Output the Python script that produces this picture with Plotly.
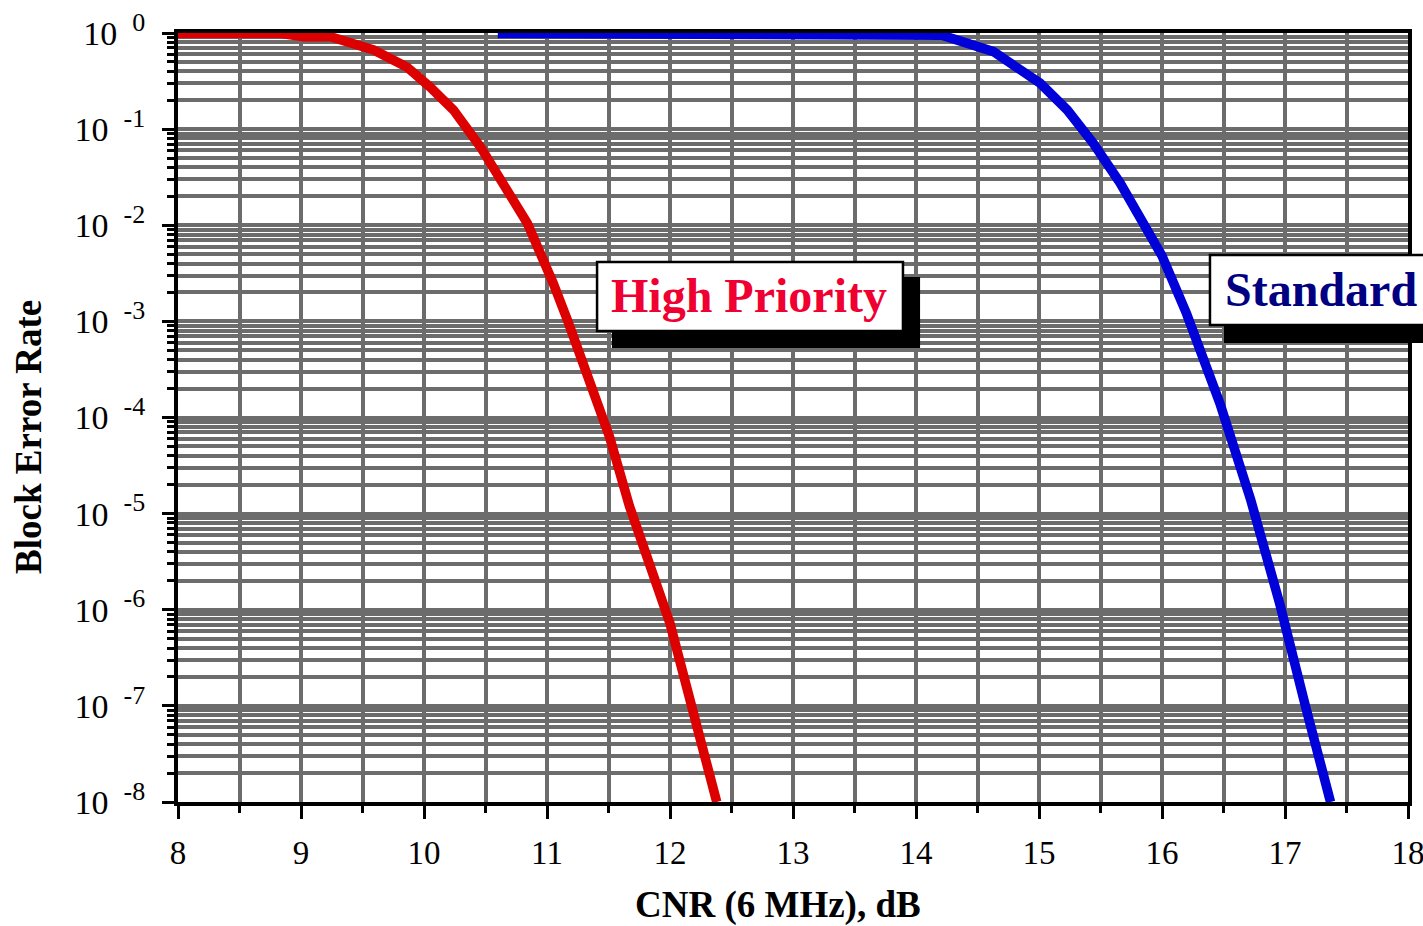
import plotly.graph_objects as go

# ---- data ----
hp_cnr = [8.0, 8.83, 9.02, 9.24, 9.59, 9.86, 10.05, 10.24, 10.46, 10.62, 10.84, 11.05, 11.17, 11.51, 11.67, 12.0, 12.38]
hp_ber = [0.99, 0.99, 0.915, 0.915, 0.665, 0.443, 0.274, 0.158, 0.065, 0.0295, 0.0105, 2.5e-3, 1.0e-3, 6.2e-5, 1.2e-5, 7.2e-7, 1e-8]

std_cnr = [10.6, 13.9, 14.05, 14.21, 14.63, 15.01, 15.23, 15.44, 15.66, 15.88, 16.0, 16.2, 16.47, 16.72, 16.96, 17.16, 17.37]
std_ber = [0.99, 0.99, 0.95, 0.95, 0.64, 0.30, 0.158, 0.0716, 0.0275, 8.9e-3, 4.8e-3, 1.2e-3, 1.41e-4, 1.41e-5, 1.12e-6, 1.07e-7, 1e-8]

x_ticks = [8, 9, 10, 11, 12, 13, 14, 15, 16, 17, 18]
x_minor = [8.5, 9.5, 10.5, 11.5, 12.5, 13.5, 14.5, 15.5, 16.5, 17.5]
y_exps = [0, -1, -2, -3, -4, -5, -6, -7, -8]
y_ticks = [10.0 ** e for e in y_exps]
y_ticktext = ["10\u00a0<sup><span style='font-size:26px'>\u00a0%d</span></sup>" % e for e in y_exps]
y_minor = [k * 10.0 ** e for e in range(-8, 0) for k in range(2, 10)]

FONT = "Liberation Serif, Times New Roman, serif"
GRID = "#6c6c6c"

fig = go.Figure()
fig.add_trace(go.Scatter(x=hp_cnr, y=hp_ber, mode="lines", name="High Priority",
                         line=dict(color="#dd0000", width=9.5)))
fig.add_trace(go.Scatter(x=std_cnr, y=std_ber, mode="lines", name="Standard",
                         line=dict(color="#0000d8", width=9.5)))

fig.update_layout(
    width=1423, height=926,
    margin=dict(l=178, r=15, t=33, b=124),
    paper_bgcolor="white", plot_bgcolor="white",
    showlegend=False,
    font=dict(family=FONT, color="black"),
    xaxis=dict(
        range=[8, 18], tickmode="array", tickvals=x_ticks, automargin=False,
        ticklabeloverflow="allow", layer="below traces",
        ticks="outside", ticklen=13, tickwidth=3, tickcolor="black",
        showline=True, linewidth=4, linecolor="black", mirror=True,
        showgrid=True, gridcolor=GRID, gridwidth=4, zeroline=False,
        tickfont=dict(size=33, family=FONT, color="black"),
        ticklabelstandoff=5,
        minor=dict(tickmode="array", tickvals=x_minor, ticks="outside", ticklen=7,
                   tickwidth=3, tickcolor="black", showgrid=True,
                   gridcolor=GRID, gridwidth=4),
    ),
    yaxis=dict(
        type="log", range=[-8, 0], tickmode="array", tickvals=y_ticks, ticktext=y_ticktext,
        automargin=False, ticklabeloverflow="allow", layer="below traces",
        ticks="outside", ticklen=12, tickwidth=3, tickcolor="black",
        showline=True, linewidth=4, linecolor="black", mirror=True,
        showgrid=True, gridcolor=GRID, gridwidth=4, zeroline=False,
        tickfont=dict(size=34, family=FONT, color="black"),
        ticklabelstandoff=10,
        minor=dict(tickmode="array", tickvals=y_minor, ticks="outside", ticklen=7,
                   tickwidth=3, tickcolor="black", showgrid=True,
                   gridcolor=GRID, gridwidth=4),
    ),
)

# axis titles
fig.add_annotation(text="CNR (6 MHz), dB", xref="paper", yref="paper",
                   x=0.488, y=-0.134, showarrow=False, xanchor="center", yanchor="middle",
                   font=dict(size=37, family=FONT, color="black", weight="bold"))
fig.add_annotation(text="Block Error Rate", xref="paper", yref="paper",
                   x=-0.121, y=0.475, showarrow=False, textangle=-90,
                   xanchor="center", yanchor="middle",
                   font=dict(size=37, family=FONT, color="black", weight="bold"))

# label boxes with drop shadows
boxes = [
    # shadow, box, text position, text, color
    ((0.3528, 0.5904, 0.6033, 0.6827), (0.3407, 0.6125, 0.5894, 0.7022), (0.4646, 0.6580), "High Priority", "#f00030"),
    ((0.8504, 0.5969, 1.03, 0.6918), (0.8390, 0.6203, 1.03, 0.7113), (0.9293, 0.6658), "Standard", "#000080"),
]
for sh, bx, tp, txt, col in boxes:
    fig.add_shape(type="rect", xref="paper", yref="paper", layer="above",
                  x0=sh[0], y0=sh[1], x1=sh[2], y1=sh[3],
                  fillcolor="black", line=dict(width=0))
    fig.add_shape(type="rect", xref="paper", yref="paper", layer="above",
                  x0=bx[0], y0=bx[1], x1=bx[2], y1=bx[3],
                  fillcolor="white", line=dict(color="black", width=2.5))
    fig.add_annotation(text=txt, xref="paper", yref="paper", x=tp[0], y=tp[1],
                       showarrow=False, xanchor="center", yanchor="middle",
                       font=dict(size=48, family=FONT, color=col, weight="bold"))

# remove the browser's default 8 px body margin so the figure fills the window exactly
fig.write_html("out.html", config={"displayModeBar": False},
               post_script="document.body.style.margin='0px';")
